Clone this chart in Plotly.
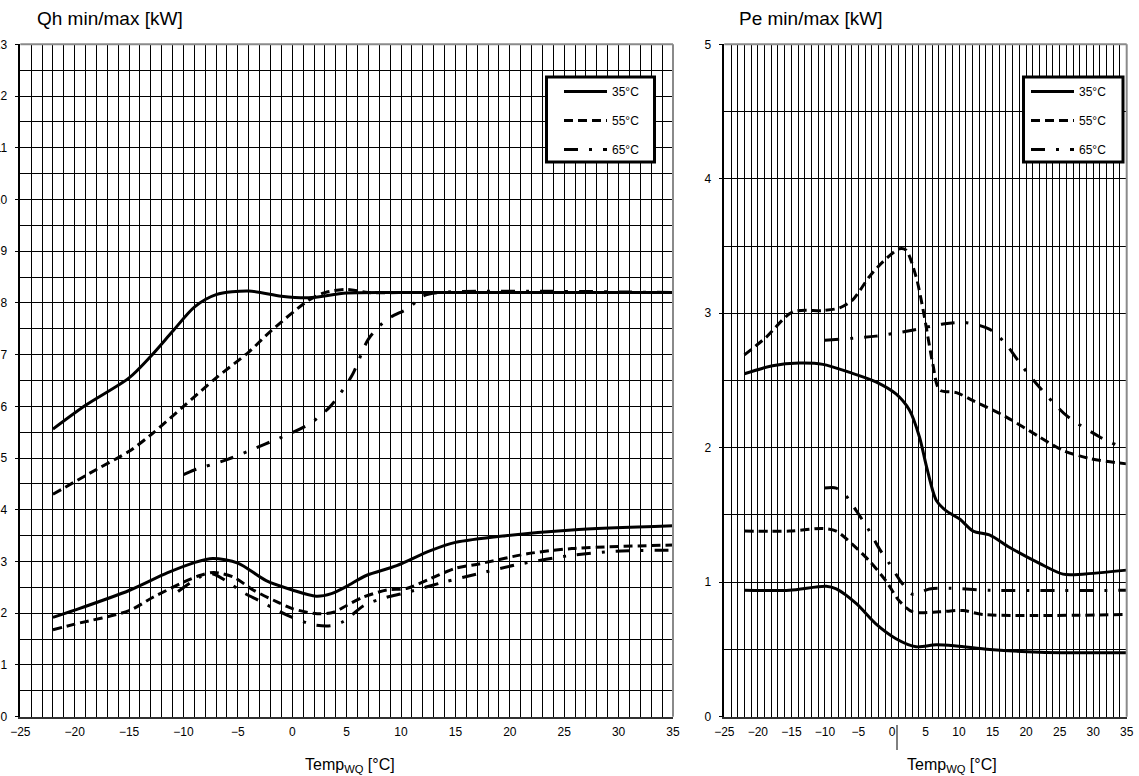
import plotly.graph_objects as go

W, H = 1139, 776

def fx(p):
    return p / W

def fy(p):
    return 1 - p / H

# ---------------- data: Qh (left chart) ----------------
temps = ["35°C", "55°C", "65°C"]

qh35_max_x = [-22, -19, -15, -13, -11, -9, -7, -4, -1, 1.5, 5, 10, 20, 35]
qh35_max_y = [5.56, 6.02, 6.55, 6.97, 7.45, 7.92, 8.16, 8.23, 8.13, 8.10, 8.19, 8.2, 8.2, 8.2]
qh55_max_x = [-22, -18, -15, -13, -10, -7, -4, -2, 1.5, 3, 5, 7, 10, 35]
qh55_max_y = [4.3, 4.78, 5.13, 5.45, 6.0, 6.55, 7.05, 7.45, 8.05, 8.2, 8.26, 8.2, 8.2, 8.2]
qh65_max_x = [-10, -9, -6, -2.5, 1.5, 3.5, 5.5, 7, 8.7, 10.7, 12, 13.5, 35]
qh65_max_y = [4.68, 4.77, 4.97, 5.27, 5.65, 6.0, 6.6, 7.3, 7.68, 7.9, 8.13, 8.2, 8.2]

qh35_min_x = [-22, -20, -15, -11.5, -9, -7.3, -5, -2.4, 0, 2.2, 3.6, 5, 6.8, 9.6, 12.7, 15, 19.6, 25.7, 35]
qh35_min_y = [1.92, 2.06, 2.44, 2.78, 2.98, 3.06, 2.97, 2.63, 2.45, 2.33, 2.38, 2.52, 2.73, 2.92, 3.21, 3.37, 3.5, 3.61, 3.69]
qh55_min_x = [-22, -20, -15, -12.8, -10, -8.5, -7.2, -5.4, -3.6, -1.4, 0, 2.3, 3.8, 5, 6.5, 8.7, 10.5, 12.7, 15, 17.3, 21.6, 25.7, 35]
qh55_min_y = [1.68, 1.79, 2.05, 2.31, 2.6, 2.73, 2.79, 2.70, 2.45, 2.22, 2.09, 1.99, 2.02, 2.15, 2.31, 2.45, 2.48, 2.67, 2.87, 2.96, 3.15, 3.25, 3.32]
qh65_min_x = [-10.5, -8.5, -7.3, -5.7, -4.5, -3, -1.4, 0, 1.9, 3.5, 4.7, 6.6, 8.5, 10.5, 13.9, 17.6, 20.9, 25.7, 29.7, 35]
qh65_min_y = [2.42, 2.7, 2.76, 2.57, 2.40, 2.24, 2.06, 1.92, 1.78, 1.76, 1.84, 2.15, 2.3, 2.40, 2.6, 2.79, 2.95, 3.12, 3.2, 3.22]

# ---------------- data: Pe (right chart) ----------------
pe35_max_x = [-22, -17.8, -13.8, -10.3, -6.3, -2.4, 0.6, 2.6, 4.1, 5.2, 6.6, 8.1, 10.1, 12.1, 14.6, 17.5, 22, 25.5, 28.4, 35]
pe35_max_y = [2.55, 2.61, 2.63, 2.62, 2.56, 2.49, 2.40, 2.28, 2.08, 1.85, 1.61, 1.53, 1.47, 1.38, 1.35, 1.26, 1.14, 1.06, 1.06, 1.09]
pe55_max_x = [-22, -18.8, -14.8, -10.3, -7.8, -5.85, -3.4, -1.4, 1.1, 2.1, 3.6, 4.85, 6.1, 7.1, 9.6, 12.1, 17, 22, 25.5, 29.5, 35]
pe55_max_y = [2.69, 2.82, 3.01, 3.02, 3.04, 3.10, 3.27, 3.38, 3.48, 3.47, 3.27, 2.97, 2.62, 2.43, 2.41, 2.35, 2.23, 2.08, 1.98, 1.92, 1.88]
pe65_max_x = [-10, -2.4, 2.6, 7.6, 11.1, 14.6, 17, 19.5, 22, 26, 31, 33.5]
pe65_max_y = [2.80, 2.83, 2.87, 2.92, 2.93, 2.88, 2.77, 2.60, 2.45, 2.24, 2.08, 2.02]

pe35_min_x = [-22, -15.3, -9.8, -8.3, -5.3, -2.4, 0.6, 3.6, 6.6, 9.6, 14.6, 22, 35]
pe35_min_y = [0.94, 0.94, 0.97, 0.95, 0.84, 0.69, 0.58, 0.52, 0.535, 0.526, 0.50, 0.48, 0.475]
pe55_min_x = [-22, -15.3, -10.3, -8.3, -5.85, -3.4, -0.9, 1.1, 3.1, 7.1, 10.6, 13.5, 35]
pe55_min_y = [1.38, 1.38, 1.40, 1.38, 1.28, 1.16, 1.01, 0.86, 0.78, 0.78, 0.79, 0.76, 0.76]
pe65_min_x = [-10.1, -8.3, -6.8, -5.3, -3.6, -1.9, -0.4, 1.4, 3.1, 5.6, 8.6, 14.6, 35]
pe65_min_y = [1.70, 1.70, 1.64, 1.53, 1.40, 1.25, 1.14, 1.0, 0.91, 0.95, 0.955, 0.94, 0.94]

qh_y_ticks = list(range(0, 14))
pe_y_ticks = list(range(0, 6))
x_ticks = list(range(-25, 36, 5))

# ---------------- styles ----------------
dash = {"35°C": "solid", "55°C": "9px,5px", "65°C": "14px,11px,3px,11px"}

left_series = [
    ("35°C", qh35_max_x, qh35_max_y, True), ("55°C", qh55_max_x, qh55_max_y, True), ("65°C", qh65_max_x, qh65_max_y, True),
    ("35°C", qh35_min_x, qh35_min_y, False), ("55°C", qh55_min_x, qh55_min_y, False), ("65°C", qh65_min_x, qh65_min_y, False),
]
right_series = [
    ("35°C", pe35_max_x, pe35_max_y, True), ("55°C", pe55_max_x, pe55_max_y, True), ("65°C", pe65_max_x, pe65_max_y, True),
    ("35°C", pe35_min_x, pe35_min_y, False), ("55°C", pe55_min_x, pe55_min_y, False), ("65°C", pe65_min_x, pe65_min_y, False),
]

fig = go.Figure()
for name, xs, ys, show in left_series:
    fig.add_trace(go.Scatter(
        x=xs, y=ys, name=name, mode="lines", line_shape="spline",
        line=dict(color="black", width=3, dash=dash[name], smoothing=0.8),
        xaxis="x", yaxis="y", showlegend=show, legend="legend", legendgroup="L" + name,
    ))
for name, xs, ys, show in right_series:
    fig.add_trace(go.Scatter(
        x=xs, y=ys, name=name, mode="lines", line_shape="spline",
        line=dict(color="black", width=3, dash=dash[name], smoothing=0.8),
        xaxis="x2", yaxis="y2", showlegend=show, legend="legend2", legendgroup="R" + name,
    ))

FONT = "Arial, Liberation Sans, sans-serif"
ydom = [fy(716.7), fy(44.3)]

def xaxis_cfg(dom, anchor):
    return dict(
        domain=dom, range=[-25, 35], tickmode="array", tickvals=x_ticks, anchor=anchor,
        showgrid=True, gridcolor="black", gridwidth=1,
        minor=dict(dtick=1, tick0=-25, showgrid=True, gridcolor="black", gridwidth=1, ticks=""),
        showline=True, linecolor="#303030", linewidth=2, ticks="",
        ticklabelstandoff=3, tickfont=dict(size=12, color="black", family=FONT),
        zeroline=False, automargin=False, fixedrange=True,
    )

def yaxis_cfg(anchor, vals, top):
    return dict(
        domain=ydom, range=[0, top], tickmode="array", tickvals=vals, anchor=anchor,
        showgrid=True, gridcolor="black", gridwidth=1,
        minor=dict(dtick=0.5, tick0=0, showgrid=True, gridcolor="black", gridwidth=1, ticks=""),
        showline=True, linecolor="black", linewidth=1.5, ticks="outside", ticklen=4,
        tickcolor="black", ticklabelstandoff=5, tickfont=dict(size=12, color="black", family=FONT),
        zeroline=False, automargin=False, fixedrange=True,
    )

legend_common = dict(
    bgcolor="rgba(0,0,0,0)", borderwidth=0,
    font=dict(size=12, color="black", family=FONT),
    xanchor="left", yanchor="top", tracegroupgap=10, itemwidth=43,
    traceorder="grouped",
)

fig.update_layout(
    width=W, height=H, margin=dict(l=0, r=0, t=0, b=0),
    paper_bgcolor="white", plot_bgcolor="white", template="none",
    font=dict(family=FONT, color="black"),
    xaxis=xaxis_cfg([fx(20.3), fx(673)], "y"),
    yaxis=yaxis_cfg("x", qh_y_ticks, 13),
    xaxis2=xaxis_cfg([fx(724.3), fx(1126.7)], "y2"),
    yaxis2=yaxis_cfg("x2", pe_y_ticks, 5),
    legend=dict(x=fx(559), y=fy(77), **legend_common),
    legend2=dict(x=fx(1026), y=fy(77), **legend_common),
)

# plot frame (grey top/right edges)
for x0, x1 in [(20.3, 673), (724.3, 1126.7)]:
    fig.add_shape(type="line", xref="paper", yref="paper", x0=fx(x0), x1=fx(x1), y0=fy(44.3), y1=fy(44.3),
                  line=dict(color="#8a8a8a", width=2), layer="above")
    fig.add_shape(type="line", xref="paper", yref="paper", x0=fx(x1), x1=fx(x1), y0=fy(44.3), y1=fy(716.7),
                  line=dict(color="#8a8a8a", width=2), layer="above")

# legend frames
for bx0, bx1 in [(546.5, 654.5), (1023.5, 1123)]:
    fig.add_shape(type="rect", xref="paper", yref="paper", x0=fx(bx0), x1=fx(bx1), y0=fy(162), y1=fy(77),
                  fillcolor="white", line=dict(color="black", width=3), layer="above")

# small stray mark below the Pe axis
fig.add_shape(type="line", xref="paper", yref="paper", x0=fx(897), x1=fx(897), y0=fy(750), y1=fy(725),
              line=dict(color="black", width=1))

fig.add_annotation(text="Qh min/max [kW]", xref="paper", yref="paper", x=fx(35), y=fy(18),
                   xanchor="left", yanchor="middle", showarrow=False, font=dict(size=19, family=FONT))
fig.add_annotation(text="Pe min/max [kW]", xref="paper", yref="paper", x=fx(737), y=fy(18),
                   xanchor="left", yanchor="middle", showarrow=False, font=dict(size=19, family=FONT))
fig.add_annotation(text="Temp<sub>WQ</sub> [°C]", xref="paper", yref="paper", x=fx(350), y=fy(765),
                   xanchor="center", yanchor="middle", showarrow=False, font=dict(size=16, family=FONT))
fig.add_annotation(text="Temp<sub>WQ</sub> [°C]", xref="paper", yref="paper", x=fx(952), y=fy(765),
                   xanchor="center", yanchor="middle", showarrow=False, font=dict(size=16, family=FONT))

fig.write_html("out.html", config={"displayModeBar": False},
               post_script="document.body.style.margin='0';document.body.style.overflow='hidden';")
